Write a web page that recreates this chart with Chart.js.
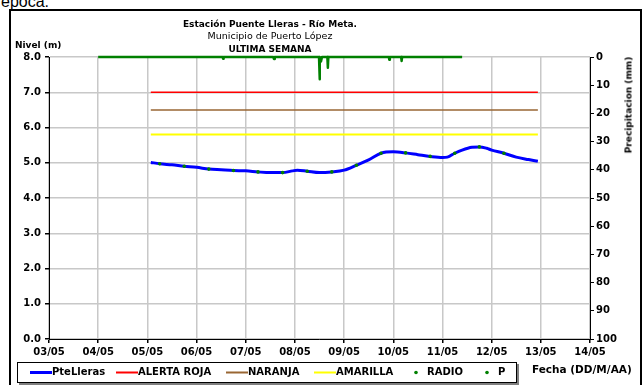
<!DOCTYPE html>
<html>
<head>
<meta charset="utf-8">
<script src="https://cdn.jsdelivr.net/npm/chart.js@4.4.0/dist/chart.umd.min.js"></script>
<style>
  html, body { margin: 0; padding: 0; background: #fff; }
  #page { position: relative; width: 642px; height: 385px; overflow: hidden; font-family: "DejaVu Sans", sans-serif; color: #000; }
  #frame { position: absolute; left: 9px; top: 9px; width: 629px; height: 400px; border: 2px solid #000; }
  .txt { position: absolute; white-space: nowrap; line-height: 11px; }
  #chart { position: absolute; left: 0; top: 0; }
</style>
</head>
<body>
<div id="page">
  <div class="txt" style="left:1px; top:-6px; font-family:'Liberation Sans'; font-size:16px; line-height:16px;">época.</div>
  <div id="frame"></div>
  <canvas id="chart" width="642" height="385"></canvas>
  <div class="txt" style="left:270px; top:19px; transform:translateX(-50%); font-size:9px; font-weight:bold;">Estación Puente Lleras - Río Meta.</div>
  <div class="txt" style="left:270px; top:30px; transform:translateX(-50%); font-size:9.5px;">Municipio de Puerto López</div>
  <div class="txt" style="left:270px; top:44px; transform:translateX(-50%); font-size:9px; font-weight:bold;">ULTIMA SEMANA</div>
  <div class="txt" style="left:15px; top:40px; font-size:9px; font-weight:bold;">Nivel (m)</div>
  <div class="txt" style="left:629px; top:105px; transform:translate(-50%,-50%) rotate(-90deg); font-size:9px; font-weight:bold;">Precipitacion (mm)</div>
  <div class="txt" style="left:532px; top:363px; font-size:10.5px; line-height:12px; font-weight:bold;">Fecha (DD/M/AA)</div>
</div>
<script>
// days counted from 03/05 00:00
const dayLabels = ['03/05', '04/05', '05/05', '06/05', '07/05', '08/05', '09/05', '10/05', '11/05', '12/05', '13/05', '14/05'];

const levelTimes = [2.07, 2.25, 2.5, 2.75, 3.0, 3.25, 3.5, 3.75, 4.0, 4.25, 4.5, 4.75, 4.95, 5.05, 5.25, 5.5, 5.75, 6.0, 6.25, 6.5, 6.75, 7.0, 7.25, 7.5, 7.75, 8.0, 8.1, 8.25, 8.4, 8.6, 8.75, 8.9, 9.0, 9.25, 9.5, 9.75, 9.94];
const levelValues = [5.01, 4.97, 4.94, 4.90, 4.87, 4.82, 4.80, 4.78, 4.77, 4.74, 4.72, 4.72, 4.77, 4.79, 4.76, 4.72, 4.74, 4.79, 4.93, 5.08, 5.27, 5.31, 5.28, 5.23, 5.18, 5.15, 5.16, 5.27, 5.36, 5.44, 5.45, 5.41, 5.36, 5.27, 5.16, 5.09, 5.04];

const radioTimes = [2.25, 2.75, 3.25, 3.75, 4.25, 4.75, 5.25, 5.75, 6.25, 6.75, 7.25, 7.75, 8.25, 8.75, 9.25];
const radioValues = [4.97, 4.90, 4.82, 4.78, 4.74, 4.72, 4.76, 4.74, 4.93, 5.27, 5.28, 5.18, 5.27, 5.45, 5.27];

const alertTimes = [2.07, 9.94];
const alertRoja = 7.0;
const alertNaranja = 6.5;
const alertAmarilla = 5.8;

const precipTimes = [1.0, 3.53, 3.54, 3.55, 4.56, 4.575, 4.59, 5.49, 5.50, 5.51, 5.53, 5.55, 5.66, 5.67, 5.68, 6.91, 6.92, 6.93, 7.16, 7.17, 7.18, 8.40];
const precipValues = [0, 0, 0.6, 0, 0, 0.7, 0, 0, 7.9, 0, 1.6, 0, 0, 3.8, 0, 0, 1.0, 0, 0, 1.4, 0, 0];

const toPoints = (xs, ys) => xs.map((x, i) => ({ x: x, y: ys[i] }));
const flatLine = (xs, v) => xs.map(x => ({ x: x, y: v }));

const legendX = [52, 138, 248, 336, 427, 498];

const legendBox = {
  id: 'legendBox',
  afterDraw(chart) {
    const ctx = chart.ctx;
    ctx.save();
    ctx.fillStyle = '#7f7f7f';
    ctx.fillRect(19, 364, 500, 21);
    ctx.fillStyle = '#fff';
    ctx.fillRect(17, 362, 500, 21);
    ctx.strokeStyle = '#000';
    ctx.lineWidth = 1;
    ctx.strokeRect(17.5, 362.5, 499, 20);

    const y = 372.5;
    ctx.font = 'bold 10px "DejaVu Sans"';
    ctx.textBaseline = 'middle';
    ctx.textAlign = 'left';
    chart.data.datasets.forEach((ds, i) => {
      const tx = legendX[i];
      const color = ds.borderColor;
      if (ds.showLine === false || ds.yAxisID === 'y1') {
        ctx.fillStyle = color;
        ctx.beginPath();
        ctx.arc(tx - 11, y, 1.8, 0, Math.PI * 2);
        ctx.fill();
      } else {
        ctx.strokeStyle = color;
        ctx.lineWidth = ds.borderWidth >= 3 ? 3 : 2;
        ctx.beginPath();
        ctx.moveTo(tx - 22, y);
        ctx.lineTo(tx, y);
        ctx.stroke();
      }
      ctx.fillStyle = '#000';
      ctx.fillText(ds.label, tx, y);
    });
    ctx.restore();
  }
};

const tickFont = { family: 'DejaVu Sans', size: 10, weight: 'bold' };

new Chart(document.getElementById('chart'), {
  type: 'line',
  data: {
    datasets: [
      {
        label: 'PteLleras',
        data: toPoints(levelTimes, levelValues),
        borderColor: '#0000ff',
        borderWidth: 3,
        pointRadius: 0,
        cubicInterpolationMode: 'monotone',
        yAxisID: 'y',
        order: 1
      },
      {
        label: 'ALERTA ROJA',
        data: flatLine(alertTimes, alertRoja),
        borderColor: '#ff0000',
        borderWidth: 1.5,
        pointRadius: 0,
        yAxisID: 'y',
        order: 2
      },
      {
        label: 'NARANJA',
        data: flatLine(alertTimes, alertNaranja),
        borderColor: '#996633',
        borderWidth: 1.5,
        pointRadius: 0,
        yAxisID: 'y',
        order: 2
      },
      {
        label: 'AMARILLA',
        data: flatLine(alertTimes, alertAmarilla),
        borderColor: '#ffff00',
        borderWidth: 2,
        pointRadius: 0,
        yAxisID: 'y',
        order: 2
      },
      {
        label: 'RADIO',
        data: toPoints(radioTimes, radioValues),
        borderColor: '#008000',
        backgroundColor: '#008000',
        showLine: false,
        pointRadius: 1.8,
        pointBorderWidth: 0,
        yAxisID: 'y',
        order: 0
      },
      {
        label: 'P',
        data: toPoints(precipTimes, precipValues),
        borderColor: '#008000',
        backgroundColor: '#008000',
        borderWidth: 2.5,
        borderJoinStyle: 'round',
        pointRadius: 0,
        yAxisID: 'y1',
        clip: 6,
        order: 0
      }
    ]
  },
  options: {
    responsive: false,
    animation: false,
    layout: { padding: { top: 57, bottom: 26, left: 0, right: 0 } },
    plugins: {
      legend: { display: false },
      title: { display: false },
      tooltip: { enabled: false }
    },
    scales: {
      x: {
        type: 'linear',
        min: 0,
        max: 11,
        afterFit: (scale) => { scale.height = 20; },
        ticks: {
          stepSize: 1,
          autoSkip: false,
          maxRotation: 0,
          padding: 3,
          color: '#000',
          font: tickFont,
          callback: (v) => dayLabels[v]
        },
        grid: { color: '#c8c8c8', lineWidth: 1.5, tickColor: '#000', tickLength: 4 },
        border: { color: '#000', width: 1 }
      },
      y: {
        position: 'left',
        min: 0,
        max: 8,
        afterFit: (scale) => { scale.width = 49; },
        ticks: {
          stepSize: 1,
          padding: 4,
          color: '#000',
          font: tickFont,
          callback: (v) => v.toFixed(1)
        },
        grid: { color: '#c8c8c8', lineWidth: 1.5, tickColor: '#000', tickLength: 4 },
        border: { color: '#000', width: 1 }
      },
      y1: {
        position: 'right',
        min: 0,
        max: 100,
        reverse: true,
        afterFit: (scale) => { scale.width = 52; },
        ticks: {
          stepSize: 10,
          padding: 2,
          color: '#000',
          font: tickFont
        },
        grid: { drawOnChartArea: false, tickColor: '#000', tickLength: 4 },
        border: { color: '#000', width: 1 }
      }
    }
  },
  plugins: [legendBox]
});
</script>
</body>
</html>
